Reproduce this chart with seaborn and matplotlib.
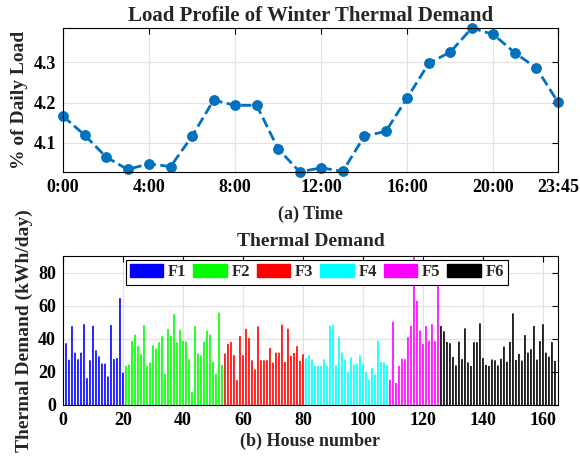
import numpy as np
import pandas as pd
import matplotlib
matplotlib.use('Agg')
import matplotlib.pyplot as plt
from matplotlib.patches import Patch
import seaborn as sns

sns.set_style('white')
plt.rcParams['font.family'] = ['Liberation Serif', 'DejaVu Serif']
plt.rcParams['font.weight'] = 'bold'
plt.rcParams['axes.labelweight'] = 'bold'
plt.rcParams['axes.titleweight'] = 'bold'

# top panel: hourly load profile (% of daily load)
hours = list(range(24))
load_pct = [4.166, 4.119, 4.064, 4.033, 4.047, 4.040, 4.116, 4.206,
            4.193, 4.193, 4.084, 4.027, 4.037, 4.028, 4.116, 4.128,
            4.212, 4.298, 4.326, 4.386, 4.370, 4.324, 4.286, 4.201]
time_ticks = [0, 4, 8, 12, 16, 20, 23]
time_labels = ['0:00', '4:00', '8:00', '12:00', '16:00', '20:00', '23:45']

# bottom panel: thermal demand per house, by group
f1 = [37.3, 27.3, 47.6, 31.6, 27.6, 31.6, 48.8, 16.2, 27.0, 47.8, 33.0, 29.4, 25.0, 25.0,
      17.2, 48.3, 27.7, 28.3, 64.6, 19.5]
f2 = [23.6, 24.5, 38.7, 42.5, 35.6, 30.7, 48.2, 23.6, 25.6, 36.1, 34.0, 37.9, 41.5, 18.8,
      45.9, 41.6, 54.9, 37.8, 45.5, 38.8, 38.3, 27.6, 7.8, 47.6, 31.1, 29.9, 38.2, 44.9,
      42.6, 26.1, 18.8, 55.8, 24.2]
f3 = [31.1, 36.9, 38.0, 30.1, 15.0, 41.6, 30.1, 46.0, 40.4, 27.0, 21.5, 47.5, 27.0, 27.0,
      27.0, 34.4, 25.6, 31.6, 31.6, 48.5, 26.0, 46.1, 29.6, 31.4, 35.5, 26.7, 30.6]
f4 = [28.2, 30.0, 27.6, 23.6, 23.6, 23.6, 27.6, 23.8, 48.0, 48.5, 24.0, 41.2, 31.6, 27.3,
      19.9, 28.7, 24.3, 25.0, 30.0, 25.0, 20.0, 15.3, 22.4, 18.3, 38.8, 26.0, 25.8, 24.0]
f5 = [15.3, 50.3, 13.3, 23.6, 28.0, 27.7, 41.0, 47.8, 95.0, 63.0, 45.0, 36.8, 47.7, 38.8,
      48.8, 38.6, 74.4]
f6 = [47.7, 44.6, 38.0, 37.3, 29.0, 23.9, 38.3, 27.7, 46.3, 25.7, 23.6, 37.9, 37.9, 49.3,
      28.3, 24.2, 23.6, 27.5, 27.0, 23.9, 27.9, 35.3, 26.1, 38.1, 55.3, 27.2, 30.9, 26.8,
      42.2, 31.6, 33.7, 47.7, 27.4, 38.6, 48.8, 31.6, 29.2, 38.0, 26.6]
group_names = ['F1', 'F2', 'F3', 'F4', 'F5', 'F6']
group_colors = ['#0000ff', '#00ff00', '#ff0000', '#00ffff', '#ff00ff', '#000000']

groups = [f1, f2, f3, f4, f5, f6]
demand = np.concatenate(groups)
labels = np.repeat(group_names, [len(g) for g in groups])
df = pd.DataFrame({'house': np.arange(1, len(demand) + 1), 'demand': demand, 'group': labels})


def matlab_box(ax):
    for s in ax.spines.values():
        s.set_color('black')
        s.set_linewidth(0.8)
    ax.tick_params(direction='in', length=4, width=0.8, top=True, right=True,
                   labelsize=13, colors='black', pad=5)
    ax.grid(True, color='#e3e3e3', linewidth=0.9)
    ax.set_axisbelow(True)
    for t in ax.get_xticklabels() + ax.get_yticklabels():
        t.set_fontweight('bold')


fig = plt.figure(figsize=(5.8, 4.57), dpi=100)

ax1 = fig.add_axes([0.1086, 0.6236, 0.8534, 0.3151])
sns.lineplot(x=hours, y=load_pct, ax=ax1, color='#0072bd', linestyle='--', linewidth=2,
             marker='o', markersize=7, markeredgecolor='#0072bd', clip_on=False)
ax1.set_xlim(0, 23)
ax1.set_ylim(4.0265, 4.386)
ax1.set_xticks(time_ticks)
ax1.set_xticklabels(time_labels)
ax1.set_yticks([4.1, 4.2, 4.3])
matlab_box(ax1)
ax1.set_title('Load Profile of Winter Thermal Demand', fontsize=15, fontweight='bold', pad=5)
ax1.set_xlabel('(a) Time', fontsize=13, labelpad=7)
ax1.set_ylabel('% of Daily Load', fontsize=14, labelpad=4)

ax2 = fig.add_axes([0.1086, 0.1138, 0.8534, 0.326])
sns.barplot(data=df, x='house', y='demand', hue='group', palette=group_colors,
            native_scale=True, dodge=False, width=0.55, saturation=1, errorbar=None,
            linewidth=0, legend=False, ax=ax2)
# no pixel snapping, so every thin bar gets the same width
for p in ax2.patches:
    p.set_snap(False)
ax2.set_xlim(0, 165)
ax2.set_ylim(0, 90)
ax2.set_xticks(range(0, 161, 20))
ax2.set_xticklabels([str(v) for v in range(0, 161, 20)])
ax2.set_yticks(range(0, 81, 20))
matlab_box(ax2)
ax2.set_title('Thermal Demand', fontsize=14, fontweight='bold', pad=7)
ax2.set_xlabel('(b) House number', fontsize=13, labelpad=3)
ax2.set_ylabel('Thermal Demand (kWh/day)', fontsize=14, labelpad=4)

handles = [Patch(facecolor=c, edgecolor=c) for c in group_colors]
leg = ax2.legend(handles, group_names, ncol=6, loc='upper center', bbox_to_anchor=(0.513, 0.995),
                 frameon=True, fancybox=False, edgecolor='black', framealpha=1,
                 handlelength=2.0, handleheight=0.8, handletextpad=0.3, columnspacing=0.4,
                 borderpad=0.25, borderaxespad=0.2, prop={'weight': 'bold', 'size': 12})
leg.get_frame().set_linewidth(0.8)

fig.savefig('out.png', dpi=100)
